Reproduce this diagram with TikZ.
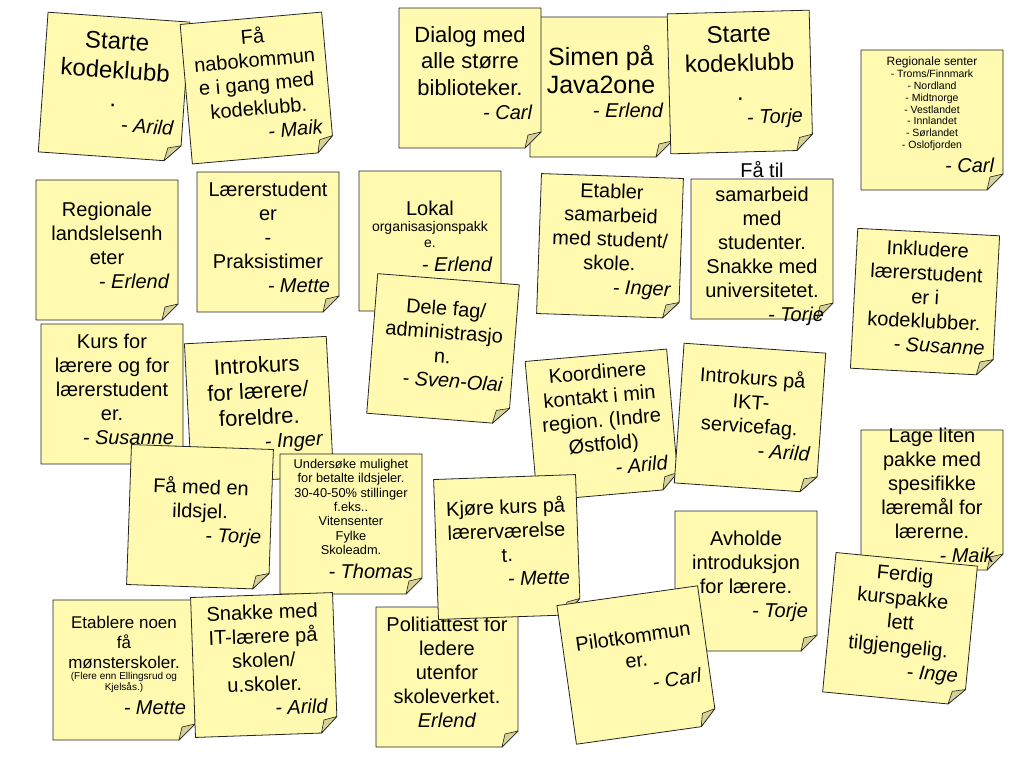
\documentclass[tikz,border=0pt]{standalone}
\usepackage{fontspec}
\setmainfont{Liberation Sans}
\setlength{\parindent}{0pt}
\hyphenpenalty=10000
\exhyphenpenalty=10000
\frenchspacing

\definecolor{notefill}{RGB}{255,250,176}
\definecolor{flapfill}{RGB}{214,209,150}
\definecolor{noteline}{RGB}{35,35,35}

\tikzset{
  note/.style={fill=notefill, draw=noteline, line width=0.8pt, line join=round},
  flap/.style={fill=flapfill, draw=noteline, line width=0.6pt, line join=round},
  notetext/.style={text width=124pt, align=flush center, inner sep=0pt, font=\fontsize{20}{24}\selectfont}
}

\newcommand\signed[1]{\par{\fontsize{20}{24}\selectfont\raggedleft\itshape - #1\par}}

% name, x, y, rotation, text
\newcommand\postit[5]{%
  \begin{scope}[shift={(#2,#3)}, rotate=#4]
    \filldraw[note] (-71,-70) -- (71,-70) -- (71,54) -- (55,70) -- (-71,70) -- cycle;
    \filldraw[flap] (71,54) -- (55,70) -- (58,57) -- cycle;
    \node[notetext, rotate=#4] (#1) at (0,-5) {#5};
  \end{scope}}

\begin{document}
\begin{tikzpicture}[x=1pt,y=-1pt]
\fill[white] (0,0) rectangle (1024,764);
\useasboundingbox (0,0) rectangle (1024,764);

\postit{arild}{114}{87}{-4}{\fontsize{24}{29}\selectfont Starte\\ kodeklubb\\ .\signed{Arild}}
\postit{maik}{257}{88}{5}{Få\\ nabokommun\\ e i gang med\\ kodeklubb.\signed{Maik}}
\postit{erlend}{601}{87}{0}{\fontsize{25}{28}\selectfont Simen på\\ Java2one\signed{Erlend}}
\postit{carl}{470}{78}{0}{\fontsize{22}{26.5}\selectfont Dialog med\\ alle større\\ biblioteker.\signed{Carl}}
\postit{torje}{740}{82}{1.5}{\fontsize{24}{29}\selectfont Starte\\ kodeklubb\\ .\signed{Torje}}
\postit{senter}{932}{120}{0}{{\fontsize{12}{13}\selectfont Regionale senter\par}{\fontsize{10.5}{11.8}\selectfont - Troms/Finnmark\\ - Nordland\\ - Midtnorge\\ - Vestlandet\\ - Innlandet\\ - Sørlandet\\ - Oslofjorden\par}\signed{Carl}}

\postit{landsled}{107}{250}{0}{Regionale\\ landslelsenh\\ eter\signed{Erlend}}
\postit{praksis}{268}{242}{0}{Lærerstudent\\ er\\ -\\ Praksistimer\signed{Mette}}
\postit{lokal}{430}{241}{0}{Lokal\par{\fontsize{14}{16}\selectfont organisasjonspakk\\ e.\par}\signed{Erlend}}
\postit{delefag}{443}{349}{-4.5}{Dele fag/\\ administrasjo\\ n.\signed{Sven-Olai}}
\postit{etabler}{610}{246}{-2}{Etabler\\ samarbeid\\ med student/\\ skole.\signed{Inger}}
\postit{samarbeid}{762}{249}{0}{Få til\\ samarbeid\\ med\\ studenter.\\ Snakke med\\ universitetet.\signed{Torje}}
\postit{inkludere}{925}{302}{-3}{Inkludere\\ lærerstudent\\ er i\\ kodeklubber.\signed{Susanne}}

\postit{kurs}{112}{394}{0}{Kurs for\\ lærere og for\\ lærerstudent\\ er.\signed{Susanne}}
\postit{introkurs}{259}{410}{3}{\fontsize{22}{26}\selectfont Introkurs\\ for lærere/\\ foreldre.\signed{Inger}}
\postit{koordinere}{602}{425}{5}{Koordinere\\ kontakt i min\\ region. (Indre\\ Østfold)\signed{Arild}}
\postit{ikt}{750}{418}{-4}{Introkurs på\\ IKT-\\ servicefag.\signed{Arild}}
\postit{pakke}{932}{500}{0}{Lage liten\\ pakke med\\ spesifikke\\ læremål for\\ lærerne.\signed{Maik}}
\postit{kurspakke}{900}{629}{-5.5}{Ferdig\\ kurspakke\\ lett\\ tilgjengelig.\signed{Inge}}

\postit{ildsjel}{200}{517}{-2}{Få med en\\ ildsjel.\signed{Torje}}
\postit{mulighet}{351}{524}{0}{{\fontsize{12.8}{14.3}\selectfont Undersøke mulighet\\ for betalte ildsjeler.\\ 30-40-50\% stillinger\\ f.eks..\\ Vitensenter\\ Fylke\\ Skoleadm.\par}\signed{Thomas}}
\postit{politi}{447}{677}{0}{Politiattest for\\ ledere\\ utenfor\\ skoleverket.\\ \textit{Erlend}}
\postit{vaerelse}{507}{547}{2}{Kjøre kurs på\\ lærerværelse\\ t.\signed{Mette}}
\postit{avholde}{746}{581}{0}{Avholde\\ introduksjon\\ for lærere.\signed{Torje}}
\postit{pilot}{637}{665}{8}{Pilotkommun\\ er.\signed{Carl}}
\postit{monster}{124}{670}{0}{{\fontsize{17}{20}\selectfont Etablere noen\\ få\\ mønsterskoler.\par}{\fontsize{10}{11}\selectfont (Flere enn Ellingsrud og\\ Kjelsås.)\par}\signed{Mette}}
\postit{itlaerere}{264}{665}{2}{Snakke med\\ IT-lærere på\\ skolen/\\ u.skoler.\signed{Arild}}
\end{tikzpicture}
\end{document}
